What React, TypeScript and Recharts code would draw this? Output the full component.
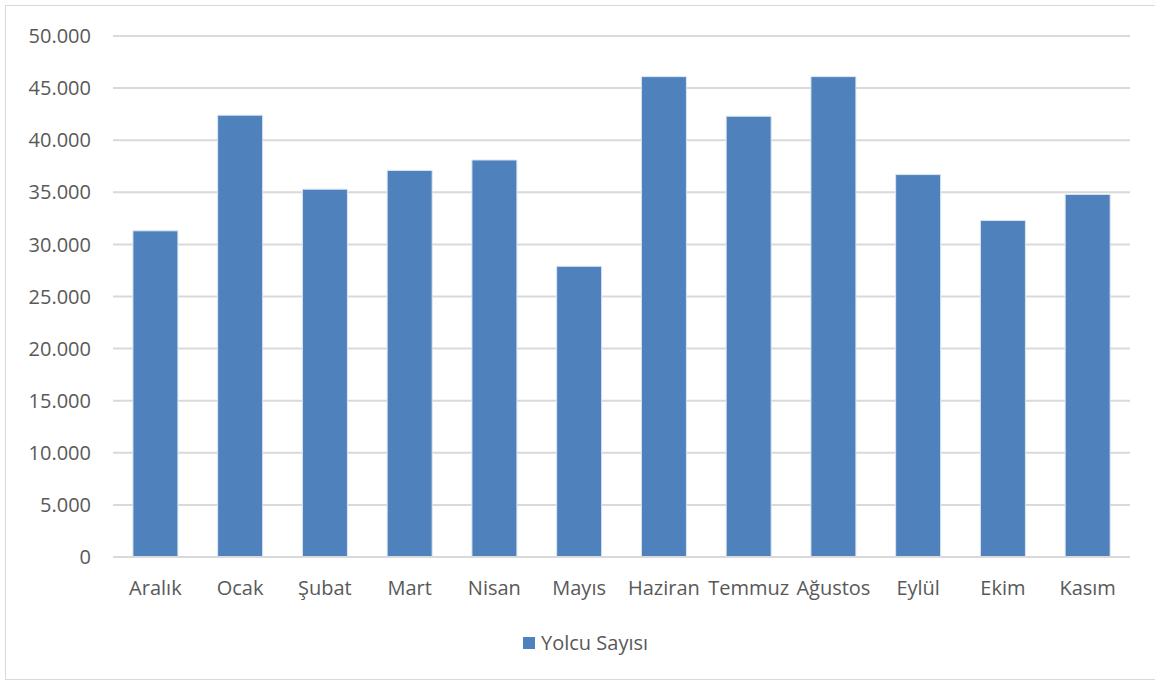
import { Bar, BarChart, CartesianGrid, XAxis, YAxis } from "recharts";

// Monthly passenger counts, Aralık through Kasım.
const months = [
  "Aralık",
  "Ocak",
  "Şubat",
  "Mart",
  "Nisan",
  "Mayıs",
  "Haziran",
  "Temmuz",
  "Ağustos",
  "Eylül",
  "Ekim",
  "Kasım",
];
const yolcuSayisi = [
  31300, 42400, 35300, 37100, 38100, 27900, 46100, 42300, 46100, 36700, 32300, 34800,
];
const yTicks = [0, 5000, 10000, 15000, 20000, 25000, 30000, 35000, 40000, 45000, 50000];

const data = months.map((m, i) => ({ month: m, yolcu: yolcuSayisi[i] }));

const BLUE = "#4f81bd";
const GRID = "#d9d9d9";
const FONT = "'Open Sans', 'Noto Sans', sans-serif";

const tick = { fontFamily: FONT, fontSize: 20, fill: "#595959" };

// Turkish thousands separator: 50000 -> "50.000"
const fmt = (v: number) => String(v).replace(/\B(?=(\d{3})+(?!\d))/g, ".");

export default function App() {
  return (
    <div style={{ position: "absolute", left: 0, top: 0, width: 1155, height: 681, background: "#fff" }}>
      <div
        style={{
          position: "absolute",
          left: 5,
          top: 5,
          width: 1160,
          height: 673,
          border: "1px solid #d9d9d9",
        }}
      />
      <BarChart
        width={1155}
        height={681}
        data={data}
        // XAxis keeps its default 30px height on top of the bottom margin
        margin={{ top: 36, right: 25, bottom: 94, left: 0 }}
        barCategoryGap="23.5%"
        style={{ position: "absolute", left: 0, top: 0 }}
      >
        <CartesianGrid vertical={false} stroke={GRID} strokeWidth={2} />
        <XAxis
          dataKey="month"
          tick={tick}
          tickLine={false}
          axisLine={{ stroke: GRID, strokeWidth: 2 }}
          tickMargin={18}
          interval={0}
        />
        <YAxis
          width={113}
          domain={[0, 50000]}
          ticks={yTicks}
          tickFormatter={fmt}
          tick={tick}
          tickLine={false}
          axisLine={false}
          tickMargin={16}
        />
        <Bar
          dataKey="yolcu"
          name="Yolcu Sayısı"
          fill={BLUE}
          stroke="#dce6f2"
          strokeWidth={1}
          isAnimationActive={false}
        />
      </BarChart>
      {/* legend, placed under the plot like the original */}
      <div
        style={{
          position: "absolute",
          left: 523,
          top: 629,
          display: "flex",
          alignItems: "center",
          fontFamily: FONT,
          fontSize: 20,
          color: "#595959",
        }}
      >
        <span
          style={{ width: 12, height: 12, background: BLUE, marginRight: 6, display: "inline-block" }}
        />
        Yolcu Sayısı
      </div>
    </div>
  );
}
